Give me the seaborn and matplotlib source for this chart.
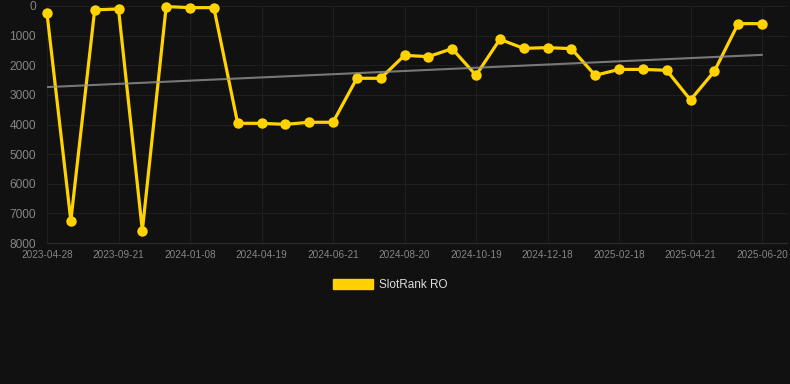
import numpy as np
import pandas as pd
import matplotlib
matplotlib.use("Agg")
import matplotlib.pyplot as plt
from matplotlib.patches import Patch
import seaborn as sns

# ---- data ----
dates = [
    "2023-04-28", "2023-06-16", "2023-08-03", "2023-09-21", "2023-10-27",
    "2023-12-02", "2024-01-08", "2024-02-10", "2024-03-16", "2024-04-19",
    "2024-05-10", "2024-05-31", "2024-06-21", "2024-07-11", "2024-07-31",
    "2024-08-20", "2024-09-09", "2024-09-29", "2024-10-19", "2024-11-08",
    "2024-11-28", "2024-12-18", "2025-01-08", "2025-01-28", "2025-02-18",
    "2025-03-10", "2025-03-31", "2025-04-21", "2025-05-11", "2025-05-31",
    "2025-06-20",
]
ranks = [
    250, 7250, 130, 100, 7580, 20, 55, 55, 3960, 3960,
    3995, 3925, 3925, 2440, 2440, 1665, 1710, 1440, 2340, 1125,
    1430, 1405, 1440, 2340, 2140, 2140, 2170, 3170, 2205, 595,
    595,
]
tick_labels = [
    "2023-04-28", "2023-09-21", "2024-01-08", "2024-04-19", "2024-06-21",
    "2024-08-20", "2024-10-19", "2024-12-18", "2025-02-18", "2025-04-21",
    "2025-06-20",
]
y_ticks = [0, 1000, 2000, 3000, 4000, 5000, 6000, 7000, 8000]
series_name = "SlotRank RO"

# ---- styling ----
BG = "#111111"
GOLD = "#FFD200"
GRID = "#1f1f1f"
TICK = "#858585"

sns.set_theme(style="dark")
plt.rcParams["font.family"] = ["Liberation Sans", "DejaVu Sans"]

df = pd.DataFrame({"idx": np.arange(len(dates)), "date": dates, "rank": ranks})
coef = np.polyfit(df["idx"], df["rank"], 1)
df["trend"] = np.polyval(coef, df["idx"])

fig = plt.figure(figsize=(7.9, 3.84), dpi=100, facecolor=BG)
ax = fig.add_axes([47 / 790, 1 - 243 / 384, (787 - 47) / 790, (243 - 6) / 384])
ax.set_facecolor(BG)

sns.lineplot(data=df, x="idx", y="rank", ax=ax, color=GOLD, linewidth=2.3,
             marker="o", markersize=7.5, markeredgecolor=GOLD, markeredgewidth=0,
             solid_joinstyle="miter", zorder=3, clip_on=False)
sns.lineplot(data=df, x="idx", y="trend", ax=ax, color="#9a9a9a", alpha=0.75,
             linewidth=1.5, zorder=4)

ax.set_ylim(8000, 0)
ax.set_xlim(0, (787 - 47) / ((762 - 47) / 30))
ax.set_yticks(y_ticks)
ax.set_yticklabels([str(v) for v in y_ticks])
tick_pos = [dates.index(t) for t in tick_labels]
ax.set_xticks(tick_pos)
ax.set_xticklabels(tick_labels)

ax.tick_params(axis="y", colors=TICK, labelsize=8.6, length=0, pad=8)
ax.tick_params(axis="x", colors=TICK, labelsize=7.2, length=0, pad=5)
ax.grid(True, color=GRID, linewidth=0.8)
ax.set_xlabel("")
ax.set_ylabel("")
for s in ["top", "right", "left"]:
    ax.spines[s].set_visible(False)
ax.spines["bottom"].set_color("#2a2a2a")
ax.spines["bottom"].set_linewidth(1)

handle = Patch(facecolor=GOLD, edgecolor=GOLD, label=series_name)
leg = fig.legend(handles=[handle], loc="center", bbox_to_anchor=(390 / 790, 1 - 285 / 384),
                 frameon=False, fontsize=8.5, handlelength=3.4, handleheight=1.0,
                 handletextpad=0.5)
for t in leg.get_texts():
    t.set_color("#dddddd")

fig.savefig("out.png", dpi=100, facecolor=BG)
